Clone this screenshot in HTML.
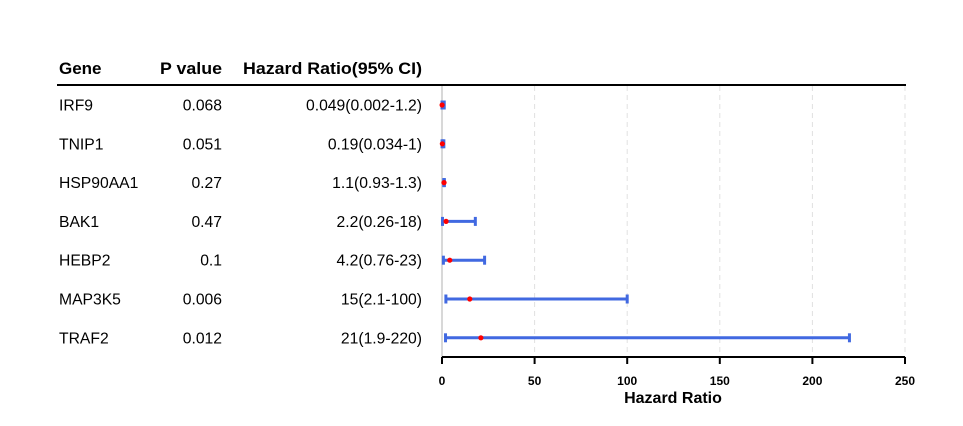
<!DOCTYPE html>
<html><head><meta charset="utf-8"><style>
body{margin:0;background:#fff}
svg{display:block;font-family:"Liberation Sans",Arial,sans-serif}
</style></head><body>
<svg id="c" width="963" height="426"></svg>
<script>
const genes=["IRF9","TNIP1","HSP90AA1","BAK1","HEBP2","MAP3K5","TRAF2"];
const pvals=["0.068","0.051","0.27","0.47","0.1","0.006","0.012"];
const hrText=["0.049(0.002-1.2)","0.19(0.034-1)","1.1(0.93-1.3)","2.2(0.26-18)","4.2(0.76-23)","15(2.1-100)","21(1.9-220)"];
const hr=[0.049,0.19,1.1,2.2,4.2,15,21];
const lo=[0.002,0.034,0.93,0.26,0.76,2.1,1.9];
const hi=[1.2,1,1.3,18,23,100,220];
const ticks=[0,50,100,150,200,250];
const NS="http://www.w3.org/2000/svg";
const svg=document.getElementById('c');
const x=v=>442+v*(905-442)/250;
const y=i=>105+i*38.8;
function mk(t,a,p){const e=document.createElementNS(NS,t);for(const k in a)e.setAttribute(k,a[k]);(p||svg).appendChild(e);return e;}
ticks.forEach((t,i)=>{const g=mk('line',{x1:x(t),x2:x(t),y1:86,y2:357,stroke:i==0?'#d8d8d8':'#e0e0e0','stroke-width':i==0?2:1,'stroke-dasharray':i==0?'':'5,4'});

});
[["Gene",59,0],["P value",160,62],["Hazard Ratio(95% CI)",243,179]].forEach(h=>{const a={x:h[1],y:74,'font-size':17,'font-weight':'bold'};if(h[2]){a.textLength=h[2];a.lengthAdjust='spacingAndGlyphs';}const e=mk('text',a);e.textContent=h[0];

});
const hl=mk('line',{x1:57,x2:906,y1:85,y2:85,stroke:'#000','stroke-width':2});


genes.forEach((g,i)=>{const yy=y(i);
const t1=mk('text',{x:59,y:yy+5.5,'font-size':15.7});t1.textContent=g;


const t2=mk('text',{x:222,y:yy+5.5,'font-size':15.7,'text-anchor':'end'});t2.textContent=pvals[i];


const t3=mk('text',{x:422,y:yy+5.5,'font-size':15.7,'text-anchor':'end'});t3.textContent=hrText[i];


const ci=mk('g',{stroke:'#4169e1','stroke-width':3});


mk('line',{x1:x(lo[i]),x2:x(hi[i]),y1:yy,y2:yy},ci);
mk('line',{x1:x(lo[i]),x2:x(lo[i]),y1:yy-4.5,y2:yy+4.5},ci);
mk('line',{x1:x(hi[i]),x2:x(hi[i]),y1:yy-4.5,y2:yy+4.5},ci);
const p=mk('circle',{cx:x(hr[i]),cy:yy,r:2.6,fill:'#ff0000'});


});
const ax=mk('line',{x1:x(0),x2:x(250),y1:357,y2:357,stroke:'#000','stroke-width':2});


ticks.forEach(t=>{mk('line',{x1:x(t),x2:x(t),y1:357,y2:364,stroke:'#000','stroke-width':2});
const l=mk('text',{x:x(t),y:385,'font-size':12,'font-weight':'bold','text-anchor':'middle'});l.textContent=t;

});
const tt=mk('text',{x:673,y:403,'font-size':16,'font-weight':'bold','text-anchor':'middle'});tt.textContent="Hazard Ratio";


</script>
</body></html>
